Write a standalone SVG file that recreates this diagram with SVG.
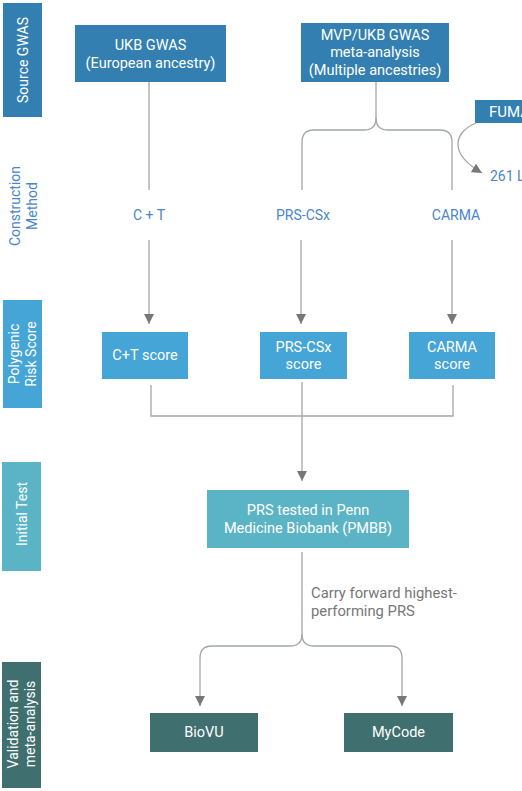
<svg xmlns="http://www.w3.org/2000/svg" width="522" height="791" viewBox="0 0 522 791">
<defs>
<style>
text{font-family:Roboto,"Liberation Sans",sans-serif;font-size:14.5px}
.w{fill:#fff;text-anchor:middle;dominant-baseline:central}
.lab{font-size:14px}
.b{fill:#4a86c8;text-anchor:middle;dominant-baseline:central;font-size:14px}
.g{fill:#777;font-size:14.8px}
.src{fill:#337fb1}
.sc{fill:#45a5d6}
.it{fill:#5bb4c5}
.val{fill:#3f6f6e}
.ln{fill:none;stroke:#a3a6a8;stroke-width:1.3}
</style>
<marker id="ah" markerUnits="userSpaceOnUse" markerWidth="10" markerHeight="10" refX="10" refY="5" orient="auto">
<path d="M0,0 L10,5 L0,10 z" fill="#777"/>
</marker>
</defs>
<rect width="522" height="791" fill="#fff"/>
<g id="lane-labels">
<g id="lane-source"><rect class="src" x="3" y="3" width="39" height="114"/><text class="w lab" transform="translate(22.5,60) rotate(-90)">Source GWAS</text></g>
<g id="lane-construction"><text class="b" transform="translate(23,206) rotate(-90)"><tspan x="0" y="-8.5">Construction</tspan><tspan x="0" y="8.5">Method</tspan></text></g>
<g id="lane-prs"><rect class="sc" x="3" y="300" width="39" height="108"/><text class="w lab" transform="translate(22.5,354) rotate(-90)"><tspan x="0" y="-8.5">Polygenic</tspan><tspan x="0" y="8.5">Risk Score</tspan></text></g>
<g id="lane-initial"><rect class="it" x="2" y="462" width="39" height="109"/><text class="w lab" transform="translate(21.5,514) rotate(-90)">Initial Test</text></g>
<g id="lane-validation"><rect class="val" x="2" y="662" width="39" height="126"/><text class="w lab" transform="translate(21.5,724) rotate(-90)"><tspan x="0" y="-8.5">Validation and</tspan><tspan x="0" y="8.5">meta-analysis</tspan></text></g>
</g>
<g id="connectors">
<path class="ln" d="M149,82 V190"/>
<path class="ln" d="M376,82 V118 Q376,130 364,130 H314 Q302,130 302,142 V190"/>
<path class="ln" d="M376,118 Q376,130 388,130 H440 Q452,130 452,142 V190"/>
<path class="ln" d="M476,123 C456,131 446,152 482,173" marker-end="url(#ah)"/>
<path class="ln" d="M149,240 V324" marker-end="url(#ah)"/>
<path class="ln" d="M301,240 V324" marker-end="url(#ah)"/>
<path class="ln" d="M452,240 V324" marker-end="url(#ah)"/>
<path class="ln" d="M151,385 V416 H453 V385"/>
<path class="ln" d="M302,382 V481" marker-end="url(#ah)"/>
<path class="ln" d="M302,552 V634 Q302,646 290,646 H212 Q200,646 200,658 V706" marker-end="url(#ah)"/>
<path class="ln" d="M302,634 Q302,646 314,646 H390 Q402,646 402,658 V706" marker-end="url(#ah)"/>
</g>
<g id="ukb-gwas"><rect class="src" x="75" y="25" width="151" height="57"/><text class="w" x="150.5" y="45">UKB GWAS</text><text class="w" x="150.5" y="63">(European ancestry)</text></g>
<g id="mvp-ukb-gwas"><rect class="src" x="301" y="23" width="148" height="59"/><text class="w" x="375" y="35">MVP/UKB GWAS</text><text class="w" x="375" y="52.5">meta-analysis</text><text class="w" x="375" y="70">(Multiple ancestries)</text></g>
<g id="fuma"><rect class="src" x="475" y="100" width="60" height="23"/><text class="w" x="489" y="111.5" style="text-anchor:start;font-size:15px">FUMA</text></g>
<g id="loci"><text class="b" x="490" y="176" style="text-anchor:start">261 L</text></g>
<g id="ct"><text class="b" x="149" y="215">C + T</text></g>
<g id="prscsx"><text class="b" x="303" y="215">PRS-CSx</text></g>
<g id="carma"><text class="b" x="456" y="215">CARMA</text></g>
<g id="ct-score"><rect class="sc" x="102" y="332" width="86" height="47"/><text class="w" x="145" y="355.5">C+T score</text></g>
<g id="prscsx-score"><rect class="sc" x="260" y="332" width="87" height="47"/><text class="w" x="303.5" y="347">PRS-CSx</text><text class="w" x="303.5" y="364.5">score</text></g>
<g id="carma-score"><rect class="sc" x="409" y="332" width="86" height="47"/><text class="w" x="452" y="347">CARMA</text><text class="w" x="452" y="364.5">score</text></g>
<g id="pmbb"><rect class="it" x="207" y="490" width="202" height="58"/><text class="w" x="308" y="510">PRS tested in Penn</text><text class="w" x="308" y="528">Medicine Biobank (PMBB)</text></g>
<g id="carry-label"><text class="g" x="311" y="598">Carry forward highest-</text><text class="g" x="311" y="616">performing PRS</text></g>
<g id="biovu"><rect class="val" x="150" y="713" width="108" height="39"/><text class="w" x="204" y="732.5">BioVU</text></g>
<g id="mycode"><rect class="val" x="344" y="713" width="109" height="39"/><text class="w" x="398.5" y="732.5">MyCode</text></g>
</svg>
